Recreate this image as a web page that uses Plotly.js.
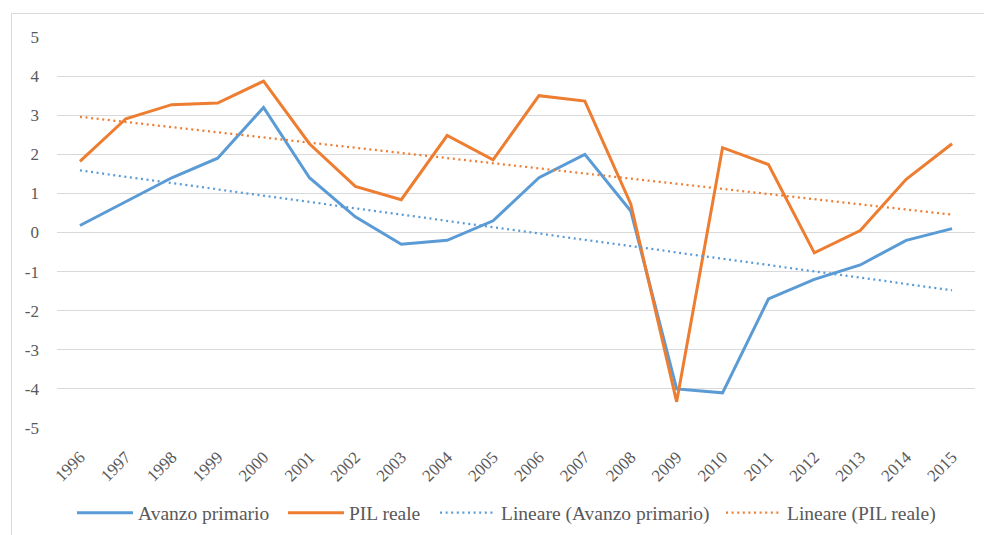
<!DOCTYPE html>
<html>
<head>
<meta charset="utf-8">
<script src="https://cdn.plot.ly/plotly-3.0.1.min.js"></script>
<style>
  html, body { margin: 0; padding: 0; background: #fff; overflow: hidden; }
  #wrap { position: relative; width: 984px; height: 535px; }
  #chart { position: absolute; left: 0; top: 0; width: 984px; height: 535px; }
  #frame { position: absolute; left: 11px; top: 13px; width: 1200px; height: 800px;
           border: 1px solid #d9d9d9; pointer-events: none; box-sizing: border-box; }
</style>
</head>
<body>
<div id="wrap">
  <div id="chart"></div>
  <div id="frame"></div>
</div>
<script>
// ---- data ----
const years = ["1996","1997","1998","1999","2000","2001","2002","2003","2004","2005",
               "2006","2007","2008","2009","2010","2011","2012","2013","2014","2015"];
const avanzoPrimario = [0.18, 0.8, 1.4, 1.9, 3.2, 1.4, 0.4, -0.3, -0.2, 0.3,
                        1.4, 2.0, 0.55, -4.0, -4.1, -1.7, -1.2, -0.83, -0.2, 0.1];
const pilReale = [1.82, 2.91, 3.27, 3.31, 3.87, 2.27, 1.18, 0.84, 2.48, 1.86,
                  3.5, 3.36, 0.73, -4.33, 2.17, 1.74, -0.52, 0.05, 1.36, 2.27];
const seriesNames = ["Avanzo primario", "PIL reale", "Lineare (Avanzo primario)", "Lineare (PIL reale)"];
const yTickVals = [-5, -4, -3, -2, -1, 0, 1, 2, 3, 4, 5];
const yTickText = ["-5", "-4", "-3", "-2", "-1", "0", "1", "2", "3", "4", "5"];

// least-squares linear trend (as Excel's "Lineare" trendline)
function linearTrend(vals) {
  const n = vals.length;
  let sx = 0, sy = 0, sxx = 0, sxy = 0;
  for (let i = 0; i < n; i++) {
    const x = i + 1; sx += x; sy += vals[i]; sxx += x * x; sxy += x * vals[i];
  }
  const b = (n * sxy - sx * sy) / (n * sxx - sx * sx);
  const a = (sy - b * sx) / n;
  return vals.map((_, i) => a + b * (i + 1));
}

const blue = "#5B9BD5";
const orange = "#ED7D31";
const FONT = "'Times New Roman', 'Liberation Serif', serif";
const txt = "#595959";
const DOT = "2px,3.6px";

const traces = [
  { x: years, y: avanzoPrimario, name: seriesNames[0], type: "scatter", mode: "lines",
    line: { color: blue, width: 3 }, legend: "legend" },
  { x: years, y: pilReale, name: seriesNames[1], type: "scatter", mode: "lines",
    line: { color: orange, width: 3 }, legend: "legend2" },
  { x: years, y: linearTrend(avanzoPrimario), name: seriesNames[2], type: "scatter", mode: "lines",
    line: { color: blue, width: 2.25, dash: DOT }, legend: "legend3" },
  { x: years, y: linearTrend(pilReale), name: seriesNames[3], type: "scatter", mode: "lines",
    line: { color: orange, width: 2.25, dash: DOT }, legend: "legend4" }
];

function leg(xpx) {
  return {
    orientation: "h", x: xpx / 984, xanchor: "left", xref: "container",
    y: 22 / 535, yanchor: "middle", yref: "container",
    font: { family: FONT, size: 19.5, color: txt },
    bgcolor: "rgba(0,0,0,0)", itemwidth: 56
  };
}

const layout = {
  width: 984, height: 535,
  margin: { l: 57, r: 9, t: 37, b: 107 },
  paper_bgcolor: "#ffffff", plot_bgcolor: "#ffffff",
  font: { family: FONT, color: txt, size: 15 },
  showlegend: true,
  legend: leg(72),
  legend2: leg(283),
  legend3: leg(435),
  legend4: leg(721),
  xaxis: {
    type: "category", range: [-0.5, 19.5],
    tickangle: -45, showgrid: false, zeroline: false, showline: false,
    ticks: "", ticklabelstandoff: 15,
    tickfont: { family: FONT, size: 17, color: txt }
  },
  yaxis: {
    range: [-5, 5], tickvals: yTickVals, ticktext: yTickText,
    showgrid: true, gridcolor: "#d9d9d9", gridwidth: 1,
    zeroline: false, showline: false, ticks: "", ticklabelstandoff: 17,
    tickfont: { family: FONT, size: 17, color: txt }
  }
};

Plotly.newPlot("chart", traces, layout, { displayModeBar: false, staticPlot: true });
</script>
</body>
</html>
